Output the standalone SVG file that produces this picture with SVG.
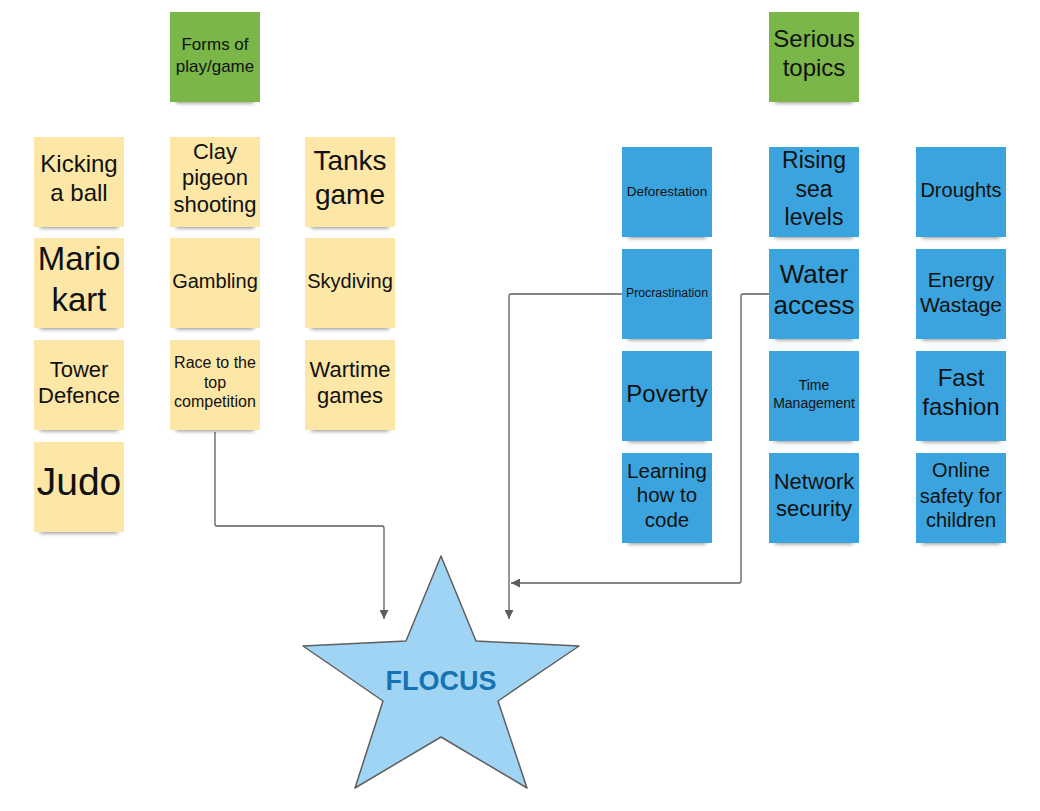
<svg xmlns="http://www.w3.org/2000/svg" width="1040" height="811" viewBox="0 0 1040 811">
<defs>
<style>
.t{font-family:"Liberation Sans",Arial,sans-serif;fill:#111;text-anchor:middle}
.y{fill:#fde7a6}
.b{fill:#3ba4de}
.g{fill:#7ab648}
.sh{fill:#000;opacity:.45;filter:url(#blur)}
.c{fill:none;stroke:#5e5e5e;stroke-width:1.3;stroke-linejoin:round}
</style>
<filter id="blur" x="-20%" y="-100%" width="140%" height="300%"><feGaussianBlur stdDeviation="2.2"/></filter>
<marker id="ah" viewBox="0 0 10 10" refX="10" refY="5" markerWidth="9" markerHeight="9" markerUnits="userSpaceOnUse" orient="auto"><path d="M0,0 L10,5 L0,10 z" fill="#5e5e5e"/></marker>
</defs>
<rect width="1040" height="811" fill="#fff"/>

<g id="connectors">
<path class="c" d="M215,432 V524 Q215,526 217,526 H382 Q384,526 384,528 V619" marker-end="url(#ah)"/>
<path class="c" d="M622,294 H511 Q509,294 509,296 V619" marker-end="url(#ah)"/>
<path class="c" d="M769,294 H743 Q741,294 741,296 V581 Q741,583 739,583 H511" marker-end="url(#ah)"/>
</g>

<g id="forms">
<rect class="sh" x="176" y="96" width="78" height="7"/>
<rect class="g" x="170" y="12" width="90" height="90"/>
<text class="t" x="215" y="50" font-size="17">Forms of</text>
<text class="t" x="215" y="72" font-size="17">play/game</text>
</g>
<g id="serious">
<rect class="sh" x="775" y="96" width="78" height="7"/>
<rect class="g" x="769" y="12" width="90" height="90"/>
<text class="t" x="814" y="47" font-size="24">Serious</text>
<text class="t" x="814" y="76" font-size="24">topics</text>
</g>

<g id="kicking">
<rect class="sh" x="40" y="221" width="78" height="7"/>
<rect class="y" x="34" y="137" width="90" height="90"/>
<text class="t" x="79" y="172" font-size="24">Kicking</text>
<text class="t" x="79" y="201" font-size="24">a ball</text>
</g>
<g id="mario">
<rect class="sh" x="40" y="322" width="78" height="7"/>
<rect class="y" x="34" y="238" width="90" height="90"/>
<text class="t" x="79" y="270" font-size="33">Mario</text>
<text class="t" x="79" y="311" font-size="33">kart</text>
</g>
<g id="tower">
<rect class="sh" x="40" y="424" width="78" height="7"/>
<rect class="y" x="34" y="340" width="90" height="90"/>
<text class="t" x="79" y="377" font-size="22">Tower</text>
<text class="t" x="79" y="403" font-size="22">Defence</text>
</g>
<g id="judo">
<rect class="sh" x="40" y="526" width="78" height="7"/>
<rect class="y" x="34" y="442" width="90" height="90"/>
<text class="t" x="79" y="495" font-size="39">Judo</text>
</g>

<g id="clay">
<rect class="sh" x="176" y="221" width="78" height="7"/>
<rect class="y" x="170" y="137" width="90" height="90"/>
<text class="t" x="215" y="159" font-size="22">Clay</text>
<text class="t" x="215" y="185" font-size="22">pigeon</text>
<text class="t" x="215" y="212" font-size="22">shooting</text>
</g>
<g id="gambling">
<rect class="sh" x="176" y="322" width="78" height="7"/>
<rect class="y" x="170" y="238" width="90" height="90"/>
<text class="t" x="215" y="288" font-size="20">Gambling</text>
</g>
<g id="race">
<rect class="sh" x="176" y="424" width="78" height="7"/>
<rect class="y" x="170" y="340" width="90" height="90"/>
<text class="t" x="215" y="368" font-size="16">Race to the</text>
<text class="t" x="215" y="388" font-size="16">top</text>
<text class="t" x="215" y="407" font-size="16">competition</text>
</g>

<g id="tanks">
<rect class="sh" x="311" y="221" width="78" height="7"/>
<rect class="y" x="305" y="137" width="90" height="90"/>
<text class="t" x="350" y="170" font-size="28">Tanks</text>
<text class="t" x="350" y="204" font-size="28">game</text>
</g>
<g id="skydiving">
<rect class="sh" x="311" y="322" width="78" height="7"/>
<rect class="y" x="305" y="238" width="90" height="90"/>
<text class="t" x="350" y="288" font-size="20">Skydiving</text>
</g>
<g id="wartime">
<rect class="sh" x="311" y="424" width="78" height="7"/>
<rect class="y" x="305" y="340" width="90" height="90"/>
<text class="t" x="350" y="377" font-size="22">Wartime</text>
<text class="t" x="350" y="403" font-size="22">games</text>
</g>

<g id="deforestation">
<rect class="sh" x="628" y="231" width="78" height="7"/>
<rect class="b" x="622" y="147" width="90" height="90"/>
<text class="t" x="667" y="196" font-size="13.5">Deforestation</text>
</g>
<g id="procrastination">
<rect class="sh" x="628" y="333" width="78" height="7"/>
<rect class="b" x="622" y="249" width="90" height="90"/>
<text class="t" x="667" y="297" font-size="12.3">Procrastination</text>
</g>
<g id="poverty">
<rect class="sh" x="628" y="435" width="78" height="7"/>
<rect class="b" x="622" y="351" width="90" height="90"/>
<text class="t" x="667" y="402" font-size="24">Poverty</text>
</g>
<g id="learning">
<rect class="sh" x="628" y="537" width="78" height="7"/>
<rect class="b" x="622" y="453" width="90" height="90"/>
<text class="t" x="667" y="478" font-size="20.5">Learning</text>
<text class="t" x="667" y="502" font-size="20.5">how to</text>
<text class="t" x="667" y="527" font-size="20.5">code</text>
</g>

<g id="rising">
<rect class="sh" x="775" y="231" width="78" height="7"/>
<rect class="b" x="769" y="147" width="90" height="90"/>
<text class="t" x="814" y="168" font-size="23">Rising</text>
<text class="t" x="814" y="197" font-size="23">sea</text>
<text class="t" x="814" y="225" font-size="23">levels</text>
</g>
<g id="water">
<rect class="sh" x="775" y="333" width="78" height="7"/>
<rect class="b" x="769" y="249" width="90" height="90"/>
<text class="t" x="814" y="283" font-size="26">Water</text>
<text class="t" x="814" y="314" font-size="26">access</text>
</g>
<g id="time">
<rect class="sh" x="775" y="435" width="78" height="7"/>
<rect class="b" x="769" y="351" width="90" height="90"/>
<text class="t" x="814" y="390" font-size="14">Time</text>
<text class="t" x="814" y="408" font-size="14">Management</text>
</g>
<g id="network">
<rect class="sh" x="775" y="537" width="78" height="7"/>
<rect class="b" x="769" y="453" width="90" height="90"/>
<text class="t" x="814" y="489" font-size="22">Network</text>
<text class="t" x="814" y="516" font-size="22">security</text>
</g>

<g id="droughts">
<rect class="sh" x="922" y="231" width="78" height="7"/>
<rect class="b" x="916" y="147" width="90" height="90"/>
<text class="t" x="961" y="197" font-size="20">Droughts</text>
</g>
<g id="energy">
<rect class="sh" x="922" y="333" width="78" height="7"/>
<rect class="b" x="916" y="249" width="90" height="90"/>
<text class="t" x="961" y="287" font-size="21">Energy</text>
<text class="t" x="961" y="312" font-size="21">Wastage</text>
</g>
<g id="fast">
<rect class="sh" x="922" y="435" width="78" height="7"/>
<rect class="b" x="916" y="351" width="90" height="90"/>
<text class="t" x="961" y="386" font-size="24">Fast</text>
<text class="t" x="961" y="415" font-size="24">fashion</text>
</g>
<g id="online">
<rect class="sh" x="922" y="537" width="78" height="7"/>
<rect class="b" x="916" y="453" width="90" height="90"/>
<text class="t" x="961" y="477" font-size="20">Online</text>
<text class="t" x="961" y="503" font-size="20">safety for</text>
<text class="t" x="961" y="527" font-size="20">children</text>
</g>

<g id="flocus">
<path d="M441,556 L406,641 L303,646 L383,701 L355,788 L441,737 L527,788 L498,701 L579,646 L476,641 Z" fill="#a0d4f4" stroke="#5e5e5e" stroke-width="1.5" stroke-linejoin="round"/>
<text x="441" y="690" font-family="'Liberation Sans',Arial,sans-serif" font-weight="bold" font-size="27" fill="#1673b3" text-anchor="middle">FLOCUS</text>
</g>
</svg>
